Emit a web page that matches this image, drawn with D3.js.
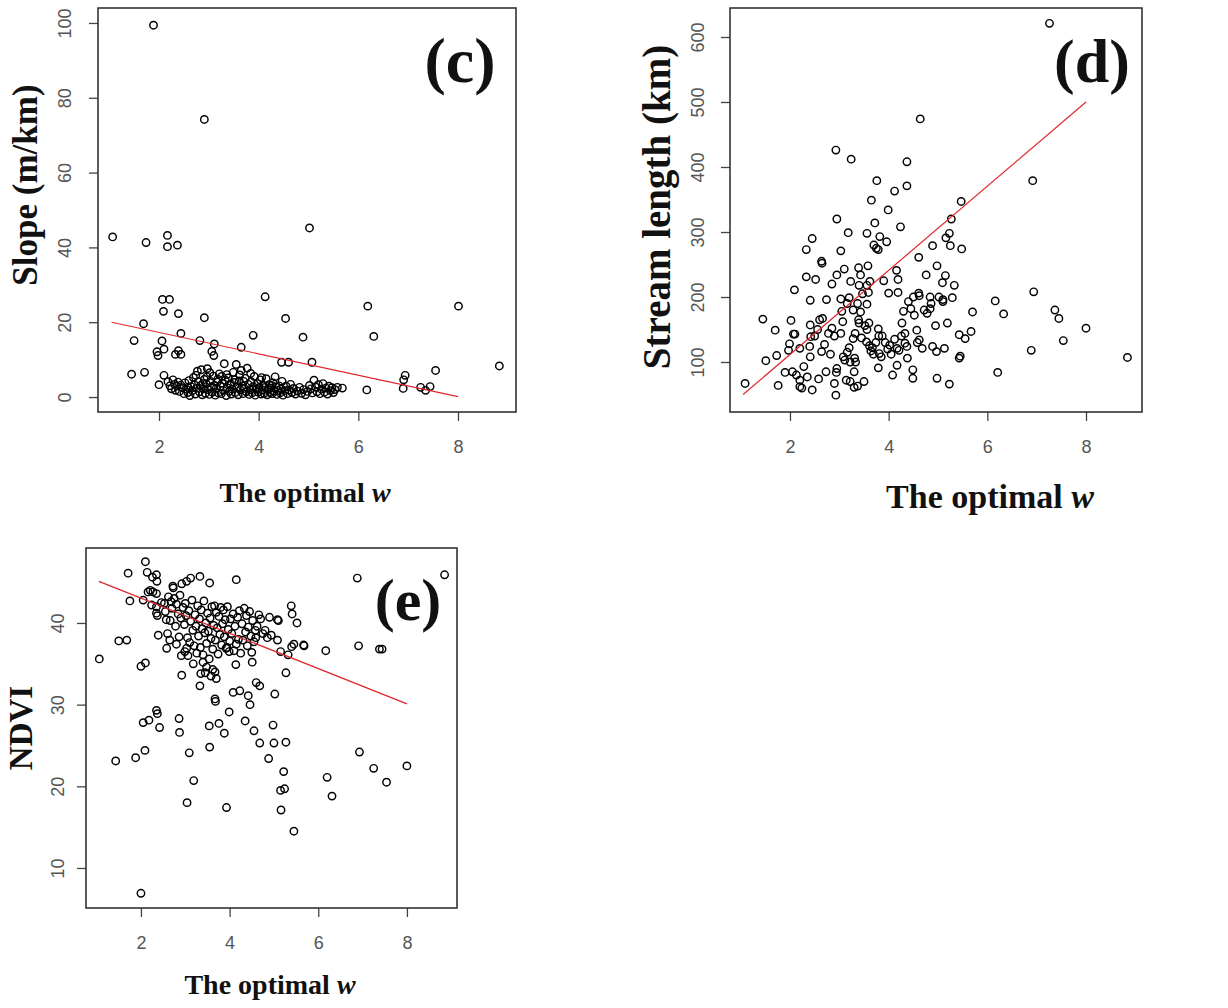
<!DOCTYPE html>
<html lang="en">
<head>
<meta charset="utf-8">
<title>Optimal w scatter plots</title>
<script src="https://cdn.jsdelivr.net/npm/d3@7"></script>
<style>
  body { margin: 0; background: #fff; }
  svg { display: block; }
  .tick text { font-family: "Liberation Sans", Arial, sans-serif; font-size: 18px; fill: #555; }
  .tick line { stroke: #444; stroke-width: 1.3; }
  .title { font-family: "Liberation Serif", "Times New Roman", serif; font-weight: bold; fill: #111; }
</style>
</head>
<body>
<div id="chart"></div>
<script>

// (c) slope against the optimal w
var cW = [1.89, 2.91, 1.07, 1.74, 2.17, 2.17, 2.37, 5.02, 2.07, 2.21, 2.09, 2.39, 2.91, 4.13, 4.54, 6.19, 8.01, 8.83,
  1.69, 1.5, 2.06, 2.44, 2.82, 3.11, 3.65, 3.89, 4.89, 6.31, 2.1, 1.96, 1.98, 2.39, 2.33, 2.44, 3.06, 3.1,
  4.46, 4.6, 5.07, 1.45, 1.71, 2.1, 6.94, 6.91, 7.55, 6.17, 6.9, 7.25, 7.35, 7.44, 5.68, 2.0,
  2.18, 2.22, 2.25, 2.28, 2.31, 2.33, 2.36, 2.38, 2.41, 2.44, 2.47, 2.5, 2.52, 2.55, 2.58, 2.6, 2.62, 2.64,
  2.67, 2.69, 2.71, 2.73, 2.75, 2.77, 2.79, 2.81, 2.83, 2.85, 2.87, 2.89, 2.91, 2.93, 2.95, 2.97, 2.99, 3.01,
  3.03, 3.05, 3.07, 3.09, 3.11, 3.13, 3.15, 3.17, 3.19, 3.21, 3.23, 3.25, 3.27, 3.29, 3.31, 3.33, 3.35, 3.37,
  3.39, 3.41, 3.43, 3.45, 3.47, 3.49, 3.51, 3.53, 3.55, 3.57, 3.59, 3.61, 3.63, 3.65, 3.67, 3.69, 3.71, 3.73,
  3.75, 3.77, 3.79, 3.81, 3.83, 3.85, 3.87, 3.89, 3.91, 3.93, 3.95, 3.97, 3.99, 4.01, 4.03, 4.05, 4.07, 4.09,
  4.11, 4.13, 4.15, 4.17, 4.19, 4.21, 4.23, 4.25, 4.27, 4.29, 4.31, 4.33, 4.35, 4.37, 4.39, 4.41, 4.43, 4.45,
  4.47, 4.49, 4.52, 4.55, 4.58, 4.61, 4.64, 4.67, 4.7, 4.74, 4.78, 4.82, 4.86, 4.9, 4.94, 4.98, 5.02, 5.05,
  5.08, 5.11, 5.14, 5.17, 5.2, 5.23, 5.26, 5.29, 5.32, 5.35, 5.38, 5.41, 5.44, 5.47, 5.5, 5.53, 5.58,
  2.74, 2.88, 3.02, 3.18, 3.36, 3.44, 3.62, 3.84, 4.06, 4.26, 3.26, 3.52, 3.7, 2.58, 2.96];
var cSlope = [99.4, 74.2, 42.8, 41.3, 43.2, 40.2, 40.6, 45.2, 26.1, 26.1, 22.9, 22.3, 21.2, 26.8, 21.0, 24.3, 24.3, 8.3,
  19.6, 15.1, 15.0, 17.0, 15.1, 14.2, 13.3, 16.5, 16.0, 16.2, 12.8, 12.1, 11.1, 12.4, 11.4, 11.4, 12.2, 11.1,
  9.3, 9.3, 9.3, 6.1, 6.6, 5.8, 5.8, 4.6, 7.1, 1.9, 2.3, 2.6, 1.8, 2.8, 2.4, 3.3,
  4.1, 3.0, 2.2, 4.6, 3.4, 1.8, 2.9, 4.0, 1.5, 3.2, 2.5, 0.9, 3.8, 2.1, 1.2, 4.4, 0.4, 2.8,
  1.7, 5.2, 3.3, 0.8, 2.3, 6.9, 4.1, 1.4, 3.0, 7.3, 0.6, 2.2, 4.7, 1.0, 3.5, 7.6, 2.0, 0.7,
  4.2, 2.7, 1.3, 5.6, 3.1, 0.5, 2.4, 4.0, 1.1, 6.2, 2.9, 0.9, 3.7, 1.8, 8.9, 4.5, 0.4, 2.5,
  5.1, 1.5, 3.2, 0.8, 2.1, 6.6, 3.9, 1.2, 8.7, 2.6, 0.6, 4.3, 1.9, 7.1, 3.0, 0.9, 2.3, 5.0,
  1.4, 7.7, 3.4, 0.7, 2.0, 4.1, 1.1, 2.8, 5.5, 0.5, 2.2, 3.6, 1.3, 2.5, 4.6, 0.8, 1.9, 3.1,
  1.0, 2.6, 4.9, 0.6, 2.0, 3.3, 1.2, 2.4, 0.9, 3.8, 1.6, 5.4, 2.7, 0.7, 1.8, 3.0, 1.1, 2.2,
  4.2, 0.5, 1.7, 2.9, 0.9, 1.9, 3.4, 1.2, 2.3, 0.8, 1.6, 2.6, 1.0, 2.0, 0.6, 1.5, 3.1, 2.2,
  1.1, 4.5, 2.7, 1.4, 3.3, 0.9, 2.1, 3.6, 1.3, 2.4, 0.8, 2.9, 1.7, 2.5, 1.2, 2.0, 2.6,
  5.8, 3.6, 6.5, 4.8, 6.0, 3.5, 5.9, 6.3, 5.2, 3.1, 5.5, 4.6, 4.2, 2.6, 5.4];
var cFit = [[1.05, 20.0], [8.0, 0.1]];

// (d) stream length against the optimal w
var dW = [7.26, 4.64, 2.93, 3.24, 4.37, 4.37, 3.76, 4.12, 3.65, 5.47, 3.99, 6.92, 2.95, 3.72, 5.27, 3.18, 3.56, 3.82,
  4.24, 5.23, 5.16, 2.45, 2.33, 3.03, 3.7, 3.75, 3.79, 3.96, 4.89, 5.25, 5.48, 2.64, 2.65, 4.61, 3.58, 3.39,
  3.1, 4.98, 4.16, 4.19, 5.15, 2.33, 2.52, 2.95, 3.43, 3.23, 2.85, 3.4, 3.56, 4.76, 5.09, 5.33, 3.9, 2.09,
  4.0, 4.19, 4.61, 2.41, 2.74, 3.03, 3.2, 3.59, 3.56, 4.5, 4.84, 5.1, 5.1, 5.29, 6.94, 6.16, 6.33, 7.37,
  7.45, 5.7, 8.0, 7.54, 8.84, 6.89, 6.21, 1.45, 1.7, 1.51, 1.73, 1.09, 1.76, 1.9, 2.02, 1.99, 2.07, 2.1,
  1.97, 2.05, 2.13, 2.2, 2.2, 2.24, 2.2, 2.41, 2.42, 2.4, 2.41, 2.28, 2.35, 2.45, 2.58, 2.6, 2.66, 2.64,
  2.7, 2.73, 2.85, 2.9, 2.93, 2.95, 2.94, 3.03, 3.07, 3.08, 3.11, 3.16, 3.14, 3.22, 3.3, 3.37, 3.5, 3.2,
  3.22, 3.31, 3.33, 3.3, 3.37, 3.43, 3.39, 3.4, 3.32, 3.28, 3.56, 3.55, 3.61, 3.64, 3.69, 3.79, 3.79, 3.8,
  3.85, 3.81, 4.08, 4.17, 4.17, 4.33, 4.33, 4.37, 4.38, 4.49, 4.49, 4.57, 4.62, 4.68, 4.89, 4.97, 5.13, 4.98,
  5.23, 5.19, 5.43, 5.43, 5.45, 5.55, 5.67, 3.47, 3.62, 3.87, 3.93, 4.05, 4.12, 4.27, 4.3, 4.45, 4.52, 4.58,
  4.72, 4.78, 4.86, 4.95, 3.05, 2.9, 2.82, 3.45, 3.67, 3.74, 3.98, 4.02, 4.21, 4.26, 3.52, 3.6, 3.16, 3.28,
  2.56, 2.78, 2.5, 4.4, 4.62, 4.84, 5.02];
var dLength = [621, 474, 426, 412, 408, 371, 379, 363, 349, 347, 334, 379, 320, 314, 320, 299, 298, 293,
  308, 298, 291, 290, 273, 271, 280, 275, 273, 285, 279, 279, 274, 255, 252, 261, 248, 245,
  243, 248, 241, 227, 233, 231, 227, 234, 234, 224, 220, 218, 218, 234, 222, 218, 225, 211,
  206, 207, 206, 195, 196, 197, 199, 207, 189, 200, 200, 196, 193, 199, 208, 194, 174, 180,
  167, 177, 152, 133, 107, 118, 84, 166, 149, 102, 110, 67, 64, 84, 164, 128, 143, 143,
  118, 85, 80, 72, 62, 60, 121, 157, 139, 124, 108, 93, 77, 57, 74, 165, 167, 116,
  127, 85, 152, 67, 49, 90, 84, 144, 162, 108, 103, 115, 72, 70, 61, 63, 70, 122,
  100, 106, 100, 85, 190, 177, 165, 160, 144, 136, 150, 131, 125, 117, 112, 91, 151, 140,
  108, 113, 80, 121, 95, 144, 129, 124, 106, 88, 75, 149, 134, 121, 124, 116, 121, 75,
  66, 160, 142, 106, 109, 136, 147, 205, 224, 140, 130, 112, 135, 160, 178, 182, 172, 130,
  180, 175, 190, 156, 178, 140, 112, 137, 122, 130, 120, 126, 118, 140, 156, 160, 190, 180,
  150, 144, 140, 193, 202, 182, 200];
var dFit = [[1.05, 50], [8.0, 500]];

// (e) NDVI against the optimal w
var eW = [1.06, 1.5, 1.68, 1.75, 1.71, 2.1, 2.14, 2.26, 2.35, 2.36, 2.21, 2.16, 2.27, 2.35, 2.05, 2.24, 2.35, 2.46,
  2.53, 2.35, 2.37, 2.57, 2.39, 2.6, 2.65, 2.58, 2.0, 2.1, 2.92, 2.8, 2.91, 2.99, 3.03, 2.35, 2.37, 2.18,
  2.05, 2.42, 1.43, 1.88, 2.09, 2.0, 2.86, 2.87, 3.09, 3.19, 3.04, 3.93, 3.54, 3.55, 3.76, 3.88, 3.99, 4.35,
  4.55, 4.68, 4.88, 4.98, 5.0, 5.27, 5.22, 5.15, 5.24, 5.16, 5.45, 6.2, 6.31, 6.93, 7.25, 7.54, 8.0, 6.88,
  6.91, 7.38, 7.44, 8.85, 6.17, 5.67, 5.68, 5.45, 5.4, 5.39, 5.41, 5.52, 5.27, 5.32, 5.15, 5.08, 5.1, 5.08,
  4.9, 4.94, 4.85, 5.02, 4.66, 4.58, 4.59, 4.6, 4.68, 4.51, 4.5, 4.46, 4.42, 4.23, 4.08, 4.15, 4.14, 3.99,
  3.94, 3.67, 3.55, 3.33, 3.12, 3.03, 2.92, 2.73, 2.72, 3.33, 3.67, 3.68, 3.48, 3.4,
  2.62, 2.68, 2.7, 2.75, 2.8, 2.84, 2.88, 2.9, 2.95, 2.98, 3.0, 3.02, 3.05, 3.08, 3.1, 3.12, 3.15, 3.17,
  3.2, 3.22, 3.24, 3.26, 3.28, 3.3, 3.32, 3.34, 3.36, 3.38, 3.4, 3.42, 3.44, 3.46, 3.48, 3.5, 3.52, 3.54,
  3.56, 3.58, 3.6, 3.62, 3.64, 3.66, 3.68, 3.7, 3.72, 3.74, 3.76, 3.78, 3.8, 3.82, 3.84, 3.86, 3.88, 3.9,
  3.92, 3.95, 3.97, 4.0, 4.02, 4.05, 4.08, 4.1, 4.12, 4.15, 4.18, 4.2, 4.22, 4.25, 4.28, 4.3, 4.33, 4.36,
  4.38, 4.4, 4.42, 4.45, 4.48, 4.52, 4.55, 4.62, 4.7, 4.75, 4.8, 2.55, 2.66, 2.78, 2.86, 3.06, 3.18, 3.35,
  3.45, 3.58, 3.7, 3.62];
var eNdvi = [35.6, 37.8, 37.9, 42.7, 46.1, 47.5, 46.2, 45.6, 45.9, 45.1, 44.0, 43.8, 43.8, 43.6, 42.8, 42.2, 42.0, 42.5,
  42.4, 41.2, 40.9, 40.4, 38.5, 38.7, 37.9, 36.9, 34.7, 35.1, 33.6, 37.4, 36.0, 36.5, 36.9, 29.3, 28.9, 28.1,
  27.8, 27.2, 23.1, 23.5, 24.4, 6.9, 28.3, 26.6, 24.1, 20.7, 18.0, 17.4, 27.4, 24.8, 27.7, 26.5, 29.1, 28.0,
  26.8, 25.3, 23.4, 27.5, 25.3, 25.4, 21.8, 19.5, 19.7, 17.1, 14.5, 21.1, 18.8, 24.2, 22.2, 20.5, 22.5, 45.5,
  37.2, 36.8, 36.8, 45.9, 36.6, 37.3, 37.2, 37.4, 37.1, 42.1, 41.1, 40.0, 33.9, 36.1, 36.5, 40.4, 40.3, 37.9,
  40.7, 38.5, 38.2, 31.3, 41.0, 39.1, 38.2, 32.7, 32.3, 35.2, 36.4, 30.0, 31.1, 31.7, 31.5, 45.3, 34.9, 36.5,
  37.0, 34.0, 44.9, 45.7, 45.5, 45.1, 44.8, 44.3, 44.5, 32.3, 30.7, 30.4, 34.6, 35.2,
  43.2, 42.6, 41.8, 43.0, 42.3, 41.1, 43.4, 40.6, 41.9, 39.8, 42.4, 40.9, 38.2, 41.5, 37.6, 40.2, 42.8, 39.1,
  37.2, 41.0, 39.6, 36.3, 42.1, 38.4, 40.5, 37.0, 41.6, 39.3, 36.1, 42.7, 38.8, 40.0, 37.5, 41.2, 39.0, 35.6,
  40.6, 38.1, 42.0, 36.8, 39.7, 42.1, 37.9, 41.3, 39.4, 36.2, 40.8, 38.6, 41.9, 37.3, 39.9, 41.6, 38.3, 40.4,
  36.9, 42.0, 39.2, 37.8, 40.5, 38.7, 41.1, 36.6, 39.6, 37.4, 40.7, 38.0, 41.5, 36.3, 39.9, 37.9, 41.8, 38.9,
  40.9, 37.2, 39.5, 41.4, 38.4, 40.3, 37.7, 39.6, 40.5, 38.7, 39.1, 41.4, 40.3, 39.6, 38.3, 36.0, 35.0, 33.8,
  33.9, 33.5, 33.2, 34.3];
var eFit = [[1.05, 45.1], [8.0, 30.1]];

var wTicks = [2, 4, 6, 8];

var svg = d3.select("#chart")
  .append("svg")
  .attr("width", 1228)
  .attr("height", 1008);

function drawPanel(p) {
  var g = svg.append("g");

  var x = d3.scaleLinear().domain(p.xDomain).range([p.left, p.right]);
  var y = d3.scaleLinear().domain(p.yDomain).range([p.bottom, p.top]);

  // axes, R style: ticks outside, no domain line
  var xAxis = g.append("g")
    .attr("transform", "translate(0," + p.bottom + ")")
    .call(d3.axisBottom(x).tickValues(wTicks).tickSize(9).tickFormat(d3.format("d")));
  xAxis.select(".domain").remove();
  xAxis.selectAll(".tick text").attr("y", 41).attr("dy", 0);

  var yAxis = g.append("g")
    .attr("transform", "translate(" + p.left + ",0)")
    .call(d3.axisLeft(y).tickValues(p.yTicks).tickSize(9).tickFormat(d3.format("d")));
  yAxis.select(".domain").remove();
  yAxis.selectAll(".tick text")
    .attr("transform", "rotate(-90)")
    .attr("x", 0)
    .attr("y", -p.yLabelOff)
    .attr("dy", 0)
    .attr("text-anchor", "middle");

  // box
  g.append("rect")
    .attr("x", p.left)
    .attr("y", p.top)
    .attr("width", p.right - p.left)
    .attr("height", p.bottom - p.top)
    .attr("fill", "none")
    .attr("stroke", "#333")
    .attr("stroke-width", 1.6);

  // points
  g.selectAll("circle")
    .data(p.xs)
    .enter()
    .append("circle")
    .attr("cx", function(d) { return x(d); })
    .attr("cy", function(d, i) { return y(p.ys[i]); })
    .attr("r", 3.7)
    .attr("fill", "none")
    .attr("stroke", "#000")
    .attr("stroke-width", 1.45);

  // fitted line
  g.append("path")
    .datum(p.fit)
    .attr("d", d3.line().x(function(d) { return x(d[0]); }).y(function(d) { return y(d[1]); }))
    .attr("fill", "none")
    .attr("stroke", "#e0262b")
    .attr("stroke-width", 1.2);

  // panel letter
  g.append("text")
    .attr("class", "title")
    .attr("x", p.tag[0])
    .attr("y", p.tag[1])
    .attr("text-anchor", "middle")
    .style("font-size", p.tagSize + "px")
    .text(p.letter);

  // x title
  var xt = g.append("text")
    .attr("class", "title")
    .attr("x", p.xTitle[0])
    .attr("y", p.xTitle[1])
    .attr("text-anchor", "middle")
    .style("font-size", p.xTitleSize + "px");
  xt.append("tspan").text("The optimal ");
  xt.append("tspan").style("font-style", "italic").text("w");

  // y title
  g.append("text")
    .attr("class", "title")
    .attr("transform", "translate(" + p.yTitle[0] + "," + p.yTitle[1] + ") rotate(-90)")
    .attr("text-anchor", "middle")
    .style("font-size", p.yTitleSize + "px")
    .text(p.yLabel);
}

drawPanel({
  left: 98, right: 516, top: 8, bottom: 412,
  xDomain: [0.776, 9.164], yDomain: [-4, 104],
  yTicks: [0, 20, 40, 60, 80, 100], yLabelOff: 27,
  xs: cW, ys: cSlope, fit: cFit,
  letter: "(c)", tag: [460, 82], tagSize: 64,
  xTitle: [305, 502], xTitleSize: 28,
  yTitle: [37, 185], yTitleSize: 35, yLabel: "Slope (m/km)"
});

drawPanel({
  left: 730, right: 1142, top: 8, bottom: 412,
  xDomain: [0.784, 9.135], yDomain: [23.1, 644.6],
  yTicks: [100, 200, 300, 400, 500, 600], yLabelOff: 26,
  xs: dW, ys: dLength, fit: dFit,
  letter: "(d)", tag: [1092, 82], tagSize: 62,
  xTitle: [990, 508], xTitleSize: 34,
  yTitle: [670, 207], yTitleSize: 39, yLabel: "Stream length (km)"
});

drawPanel({
  left: 86, right: 457, top: 548, bottom: 908,
  xDomain: [0.76, 9.13], yDomain: [5.1, 49.18],
  yTicks: [10, 20, 30, 40], yLabelOff: 22,
  xs: eW, ys: eNdvi, fit: eFit,
  letter: "(e)", tag: [408, 620], tagSize: 60,
  xTitle: [270, 994], xTitleSize: 28,
  yTitle: [32, 728], yTitleSize: 33, yLabel: "NDVI"
});

</script>
</body>
</html>
